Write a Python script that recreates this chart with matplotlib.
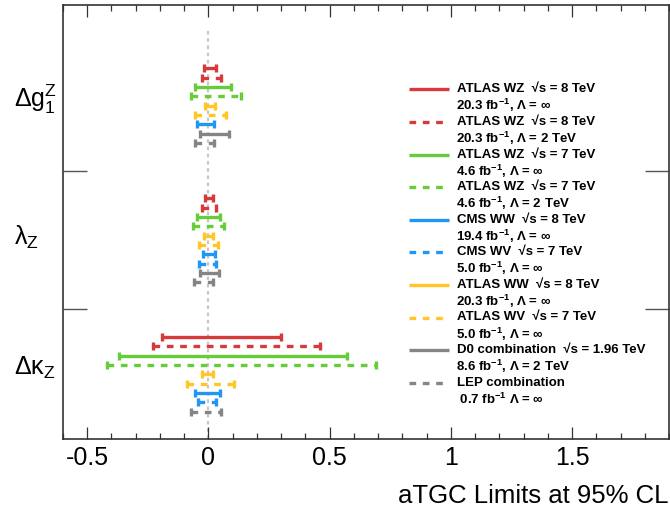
import numpy as np
import matplotlib
matplotlib.use("Agg")
import matplotlib.pyplot as plt
from matplotlib.lines import Line2D

plt.rcParams["font.family"] = ["Liberation Sans", "DejaVu Sans"]
plt.rcParams["mathtext.fontset"] = "custom"
plt.rcParams["mathtext.rm"] = "Liberation Sans"
plt.rcParams["mathtext.it"] = "Liberation Sans"
plt.rcParams["mathtext.bf"] = "Liberation Sans:bold"
plt.rcParams["lines.scale_dashes"] = False

nan = np.nan

# coupling groups (top to bottom)
couplings = [r"$\Delta\mathrm{g}_{1}^{Z}$", r"$\lambda_{Z}$", r"$\Delta\kappa_{Z}$"]

# measurements
exp_names = ["ATLAS WZ", "ATLAS WZ", "ATLAS WZ", "ATLAS WZ", "CMS WW",
             "CMS WV", "ATLAS WW", "ATLAS WV", "D0 combination", "LEP combination"]
sqrt_s = ["8 TeV", "8 TeV", "7 TeV", "7 TeV", "8 TeV",
          "7 TeV", "8 TeV", "7 TeV", "1.96 TeV", None]
lumi_lines = [r"20.3 fb$^{\mathbf{-1}}$, Λ = ∞",
              r"20.3 fb$^{\mathbf{-1}}$, Λ = 2 TeV",
              r"4.6 fb$^{\mathbf{-1}}$, Λ = ∞",
              r"4.6 fb$^{\mathbf{-1}}$, Λ = 2 TeV",
              r"19.4 fb$^{\mathbf{-1}}$, Λ = ∞",
              r"5.0 fb$^{\mathbf{-1}}$, Λ = ∞",
              r"20.3 fb$^{\mathbf{-1}}$, Λ = ∞",
              r"5.0 fb$^{\mathbf{-1}}$, Λ = ∞",
              r"8.6 fb$^{\mathbf{-1}}$, Λ = 2 TeV",
              r" 0.7 fb$^{\mathbf{-1}}$ Λ = ∞"]

colors = {"red": "#d63a3a", "green": "#66cc3a", "blue": "#2196f3",
          "yellow": "#ffc626", "grey": "#858585"}
legend_colors = ["red", "red", "green", "green", "blue",
                 "blue", "yellow", "yellow", "grey", "grey"]
legend_dashed = [False, True, False, True, False, True, False, True, False, True]

# order in which limits are stacked inside each coupling group
plot_order = [0, 1, 2, 3, 6, 7, 4, 5, 8, 9]

# 95% CL limits, indexed like exp_names
dg1z_lo = [-0.019, -0.026, -0.057, -0.074, -0.047, nan, -0.016, -0.055, -0.034, -0.054]
dg1z_hi = [0.031, 0.051, 0.093, 0.133, 0.022, nan, 0.027, 0.071, 0.084, 0.021]
lamz_lo = [-0.016, -0.028, -0.046, -0.065, -0.024, -0.038, -0.019, -0.039, -0.036, -0.059]
lamz_hi = [0.020, 0.033, 0.047, 0.066, 0.027, 0.030, 0.019, 0.040, 0.044, 0.017]
dkz_lo = [-0.19, -0.23, -0.37, -0.42, -0.056, -0.043, -0.025, -0.090, nan, -0.074]
dkz_hi = [0.30, 0.46, 0.57, 0.69, 0.048, 0.033, 0.020, 0.105, nan, 0.051]

limits = [(dg1z_lo, dg1z_hi), (lamz_lo, lamz_hi), (dkz_lo, dkz_hi)]

W, H = 670, 520
fig = plt.figure(figsize=(W / 100, H / 100), dpi=100)


def fx(px):
    return px / W


def fy(py):
    return 1 - py / H


ax = fig.add_axes([fx(63), fy(439.3), fx(669) - fx(63), fy(5) - fy(439.3)])
ax.set_xlim(-0.6, 1.9)
ax.set_ylim(46.55, 0)

group_start = [6.78, 20.72, 35.6]
row_step = 1.0
separators = [17.75, 32.6]
dash = (0, (4.8, 4.8))

ax.axvline(0, ymin=0, ymax=0.945, color="#c8c8c8", lw=1.6,
           ls=(0, (2.6, 2.6)), zorder=1)

for g, (lo, hi) in enumerate(limits):
    row = 0
    for k in plot_order:
        if np.isnan(lo[k]):
            continue
        y = group_start[g] + row * row_step
        ax.plot([lo[k], hi[k]], [y, y], color=colors[legend_colors[k]],
                lw=2.4, ls=dash if legend_dashed[k] else "-",
                solid_capstyle="butt", dash_capstyle="butt", zorder=3)
        ax.plot([lo[k], hi[k]], [y, y], ls="none", marker="|", ms=5.8, mew=2.4,
                color=colors[legend_colors[k]], zorder=3)
        row += 1

ax.set_xticks([-0.5, 0, 0.5, 1, 1.5])
ax.set_xticklabels(["-0.5", "0", "0.5", "1", "1.5"])
ax.set_xticks(np.arange(-0.6, 1.91, 0.1), minor=True)
ax.tick_params(axis="x", which="major", direction="in", length=8.6, width=0.9,
               top=True, bottom=True, labelsize=18, pad=5, colors="#333333",
               labelcolor="black")
ax.tick_params(axis="x", which="minor", direction="in", length=4.3, width=0.9,
               top=True, bottom=True, colors="#333333")
ax.set_yticks(separators)
ax.set_yticklabels([])
ax.tick_params(axis="y", which="major", direction="in", length=17, width=1.0,
               left=True, right=True, colors="#555555")
ax.tick_params(axis="y", which="minor", left=False, right=False)
for s in ax.spines.values():
    s.set_linewidth(1.2)
    s.set_color("#333333")

# coupling labels
label_baselines = [107, 245, 375]
for name, yb in zip(couplings, label_baselines):
    fig.text(fx(14), fy(yb), name, fontsize=18, ha="left", va="baseline")

fig.text(fx(669), fy(503), "aTGC Limits at 95% CL", fontsize=18.5,
         ha="right", va="baseline")

# legend
for i in range(len(exp_names)):
    yc = 89.3 + 32.6 * i
    c = colors[legend_colors[i]]
    fig.add_artist(Line2D([fx(409), fx(449)], [fy(yc), fy(yc)], color=c, lw=2.4,
                          ls=dash if legend_dashed[i] else "-",
                          dash_capstyle="butt", solid_capstyle="butt"))
    line1 = exp_names[i]
    if sqrt_s[i] is not None:
        line1 += "  √s = " + sqrt_s[i]
    fig.text(fx(457), fy(yc), line1, fontsize=9.5, fontweight="bold",
             ha="left", va="center")
    fig.text(fx(456), fy(yc + 16.5), lumi_lines[i], fontsize=9.5,
             fontweight="bold", ha="left", va="center")

fig.savefig("out.png", dpi=100)
